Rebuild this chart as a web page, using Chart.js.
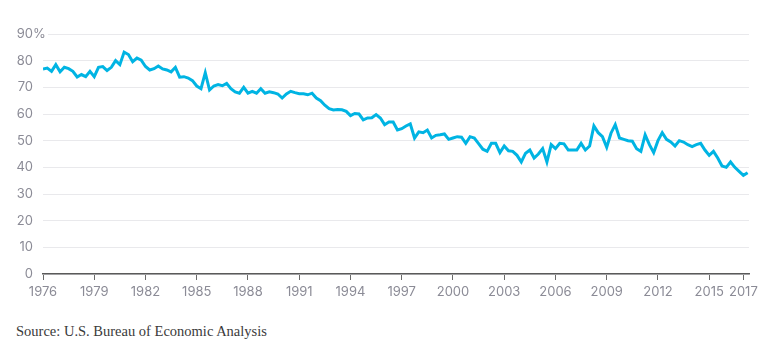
<!DOCTYPE html>
<html>
<head>
<meta charset="utf-8">
<script src="https://cdn.jsdelivr.net/npm/chart.js@4/dist/chart.umd.min.js"></script>
<style>
  body { margin: 0; background: #fff; width: 766px; height: 359px; position: relative; overflow: hidden; }
  #wrap { position: absolute; left: 0; top: 0; width: 766px; height: 310px; }
  #source { position: absolute; left: 16px; top: 323px; font-family: "Liberation Serif", "DejaVu Serif", serif; font-size: 14.5px; color: #3a3a3a; }
</style>
</head>
<body>
<div id="wrap"><canvas id="chart" width="766" height="310"></canvas></div>
<div id="source">Source: U.S. Bureau of Economic Analysis</div>
<script>
// quarterly readings, first value = 1976 Q1
const startYear = 1976;
const stepYears = 0.25;
const values = [
    76.9, 77.2, 76.0, 78.5,   // 1976
    75.8, 77.5, 77.0, 76.0,
    73.9, 74.8, 74.0, 76.0,
    74.0, 77.5, 77.8, 76.3,
    77.5, 80.0, 78.5, 83.2,   // 1980
    82.3, 79.6, 81.0, 80.2,
    77.8, 76.5, 77.0, 78.0,
    76.9, 76.5, 75.8, 77.5,
    73.8, 74.0, 73.5, 72.5,
    70.5, 69.5, 75.5, 69.0,   // 1985
    70.5, 71.0, 70.6, 71.5,
    69.5, 68.3, 67.8, 70.0,
    67.8, 68.5, 67.8, 69.5,
    67.8, 68.3, 68.0, 67.5,
    66.0, 67.5, 68.5, 68.0,   // 1990
    67.6, 67.6, 67.2, 67.8,
    66.0, 65.0, 63.3, 62.0,
    61.5, 61.7, 61.6, 61.0,
    59.4, 60.2, 60.0, 57.8,
    58.5, 58.6, 59.8, 58.5,   // 1995
    56.0, 57.0, 57.0, 54.0,
    54.5, 55.5, 56.3, 51.0,
    53.3, 53.0, 54.0, 51.0,
    52.0, 52.2, 52.5, 50.5,
    51.0, 51.5, 51.3, 49.0,   // 2000
    51.5, 51.0, 48.9, 46.8,
    46.0, 49.0, 49.0, 45.5,
    48.0, 46.2, 46.0, 44.5,
    42.0, 45.3, 46.5, 43.5,
    45.0, 47.0, 42.0, 48.5,   // 2005
    47.0, 49.0, 48.8, 46.5,
    46.5, 46.5, 49.0, 46.5,
    48.0, 55.5, 53.0, 51.5,
    47.5, 52.8, 56.0, 51.0,
    50.5, 50.0, 49.8, 47.0,   // 2010
    46.0, 52.2, 48.5, 45.5,
    50.0, 53.0, 50.5, 49.5,
    48.0, 50.0, 49.5, 48.5,
    47.8, 48.5, 49.0, 46.5,
    44.5, 46.0, 43.5, 40.5,   // 2015
    40.0, 42.0, 40.0, 38.5,
    37.0, 38.0
];
const xTicks = [1976, 1979, 1982, 1985, 1988, 1991, 1994, 1997, 2000, 2003, 2006, 2009, 2012, 2015, 2017];
const yTicks = [0, 10, 20, 30, 40, 50, 60, 70, 80, 90];

const points = values.map((v, i) => ({ x: startYear + i * stepYears, y: v }));

const tickFont = { family: "Inter, 'Noto Sans', sans-serif", size: 13 };
const tickColor = '#8b8b96';

// adds the % after the top y label
const percentSign = {
    id: 'percentSign',
    afterDraw(chart) {
        const y = chart.scales.y;
        const py = y.getPixelForValue(yTicks[yTicks.length - 1]);
        const ctx = chart.ctx;
        ctx.save();
        ctx.fillStyle = '#fff';
        ctx.fillRect(y.right - 1, py - 2, 6, 4);
        ctx.font = "13px Inter, 'Noto Sans', sans-serif";
        ctx.fillStyle = tickColor;
        ctx.textAlign = 'left';
        ctx.textBaseline = 'middle';
        ctx.fillText('%', y.right - 10, py);
        ctx.restore();
    }
};

new Chart(document.getElementById('chart'), {
    type: 'line',
    data: {
        datasets: [{
            data: points,
            borderColor: '#00b4e3',
            borderWidth: 3,
            pointRadius: 0,
            tension: 0,
            fill: false
        }]
    },
    options: {
        responsive: false,
        animation: false,
        layout: { padding: { left: 0, right: 17, top: 34, bottom: 6 } },
        plugins: { legend: { display: false }, tooltip: { enabled: false } },
        scales: {
            x: {
                type: 'linear',
                min: 1976,
                max: 2017.33,
                afterBuildTicks: (scale) => { scale.ticks = xTicks.map(v => ({ value: v })); },
                afterFit: (scale) => { scale.height = 30; },
                grid: { drawOnChartArea: false, drawTicks: true, tickLength: 6, color: '#6a6a6a' },
                border: { display: true, color: '#5a5a5a', width: 1.5 },
                ticks: {
                    autoSkip: false, maxRotation: 0, padding: 4,
                    font: tickFont, color: tickColor,
                    callback: (v) => String(v)
                }
            },
            y: {
                min: 0,
                max: 90,
                afterBuildTicks: (scale) => { scale.ticks = yTicks.map(v => ({ value: v })); },
                afterFit: (scale) => { scale.width = 43; },
                grid: { drawTicks: false, color: '#e9e9ec', lineWidth: 1 },
                border: { display: false },
                ticks: { padding: 10, font: tickFont, color: tickColor }
            }
        }
    },
    plugins: [percentSign]
});
</script>
</body>
</html>
